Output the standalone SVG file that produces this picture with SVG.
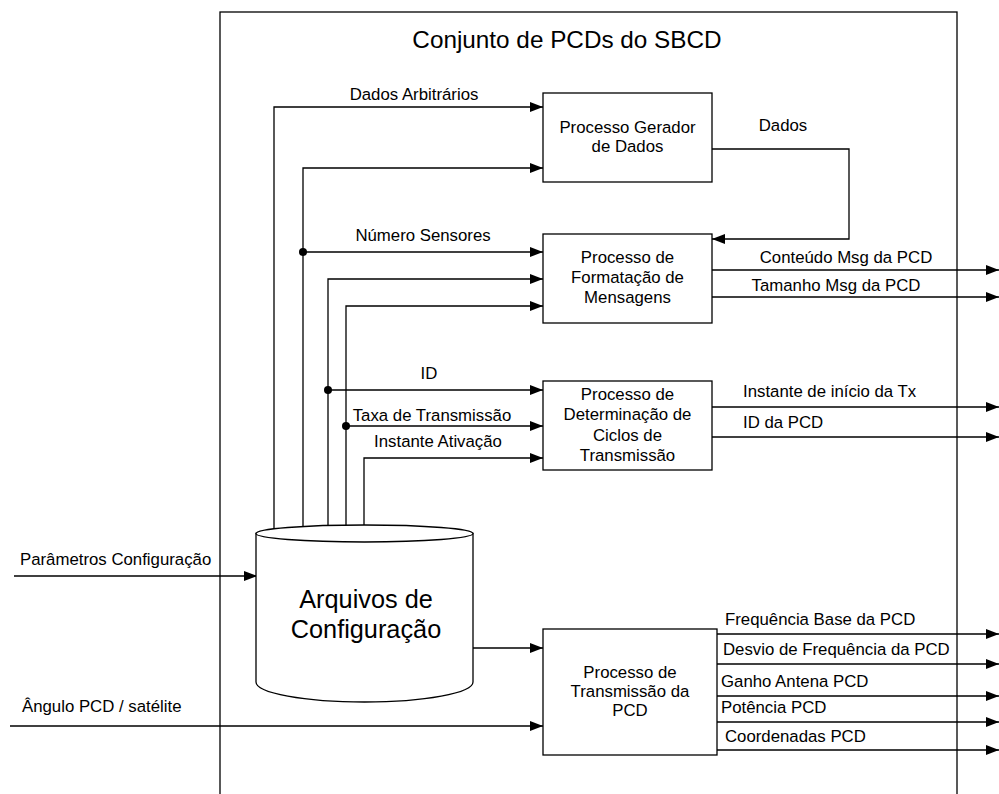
<svg xmlns="http://www.w3.org/2000/svg" width="999" height="794" viewBox="0 0 999 794">
<style>
text{font-family:"Liberation Sans",Arial,sans-serif;fill:#000}
.l{font-size:16.8px}
.c{text-anchor:middle}
.box{fill:#fff;stroke:#000;stroke-width:1.3}
.cn{fill:none;stroke:#000;stroke-width:1.3}
.ar{marker-end:url(#ah)}
</style>
<defs>
<marker id="ah" markerUnits="userSpaceOnUse" markerWidth="13" markerHeight="10" refX="13" refY="5" orient="auto">
<path d="M0,0 L13,5 L0,10 z" fill="#000"/>
</marker>
</defs>
<rect id="frame" x="220" y="12" width="737" height="800" fill="none" stroke="#000" stroke-width="1.3"/>
<text class="c" x="567" y="48" style="font-size:24.3px">Conjunto de PCDs do SBCD</text>

<g id="connectors">
<path class="cn ar" d="M274,534 V107 H543"/>
<path class="cn ar" d="M303,534 V168 H543"/>
<path class="cn ar" d="M303,252 H543"/>
<path class="cn ar" d="M328,534 V279 H543"/>
<path class="cn ar" d="M328,390 H543"/>
<path class="cn ar" d="M346,534 V306 H543"/>
<path class="cn ar" d="M346,426 H543"/>
<path class="cn ar" d="M364,534 V458 H543"/>
<circle cx="303" cy="252" r="4"/>
<circle cx="328" cy="390" r="4"/>
<circle cx="346" cy="426" r="4"/>
<path class="cn ar" d="M712,149 H849 V239 H712"/>
<path class="cn ar" d="M712,270 H999"/>
<path class="cn ar" d="M712,297 H999"/>
<path class="cn ar" d="M712,407 H999"/>
<path class="cn ar" d="M712,437 H999"/>
<path class="cn ar" d="M717,634 H999"/>
<path class="cn ar" d="M717,664 H999"/>
<path class="cn ar" d="M717,696 H999"/>
<path class="cn ar" d="M717,722 H999"/>
<path class="cn ar" d="M717,750 H999"/>
<path class="cn ar" d="M14,576 H257"/>
<path class="cn ar" d="M473,648 H543"/>
<path class="cn ar" d="M10,726 H543"/>
<text class="l c" x="414" y="100">Dados Arbitrários</text>
<text class="l c" x="423" y="241">Número Sensores</text>
<text class="l c" x="429" y="379">ID</text>
<text class="l c" x="432" y="421">Taxa de Transmissão</text>
<text class="l c" x="438" y="447">Instante Ativação</text>
<text class="l c" x="783" y="131">Dados</text>
<text class="l c" x="846" y="263">Conteúdo Msg da PCD</text>
<text class="l c" x="836" y="291">Tamanho Msg da PCD</text>
<text class="l" x="743" y="397">Instante de início da Tx</text>
<text class="l" x="743" y="428">ID da PCD</text>
<text class="l" x="725" y="625">Frequência Base da PCD</text>
<text class="l" x="723" y="655">Desvio de Frequência da PCD</text>
<text class="l" x="721" y="687">Ganho Antena PCD</text>
<text class="l" x="721" y="713">Potência PCD</text>
<text class="l" x="725" y="742">Coordenadas PCD</text>
<text class="l" x="20" y="565">Parâmetros Configuração</text>
<text class="l" x="22" y="712">Ângulo PCD / satélite</text>
</g>

<g id="cylinder">
<path class="box" d="M256,533.5 V682 A108.5,20 0 0 0 473,682 V533.5 Z"/>
<ellipse class="box" cx="364.5" cy="533.5" rx="108.5" ry="8.5"/>
<text class="c" x="366" y="608" style="font-size:25.3px">Arquivos de</text>
<text class="c" x="366" y="638" style="font-size:25.3px">Configuração</text>
</g>

<g id="gerador">
<rect class="box" x="543" y="93" width="169" height="89"/>
<text class="l c" x="627.5" y="133">Processo Gerador</text>
<text class="l c" x="627.5" y="152">de Dados</text>
</g>

<g id="formatacao">
<rect class="box" x="543" y="234" width="169" height="89"/>
<text class="l c" x="627.5" y="263">Processo de</text>
<text class="l c" x="627.5" y="283">Formatação de</text>
<text class="l c" x="627.5" y="303">Mensagens</text>
</g>

<g id="determinacao">
<rect class="box" x="543" y="381" width="169" height="89"/>
<text class="l c" x="627.5" y="400">Processo de</text>
<text class="l c" x="627.5" y="420">Determinação de</text>
<text class="l c" x="627.5" y="441">Ciclos de</text>
<text class="l c" x="627.5" y="461">Transmissão</text>
</g>

<g id="transmissao">
<rect class="box" x="543" y="629" width="174" height="126"/>
<text class="l c" x="630" y="678">Processo de</text>
<text class="l c" x="630" y="697">Transmissão da</text>
<text class="l c" x="630" y="716">PCD</text>
</g>
</svg>
